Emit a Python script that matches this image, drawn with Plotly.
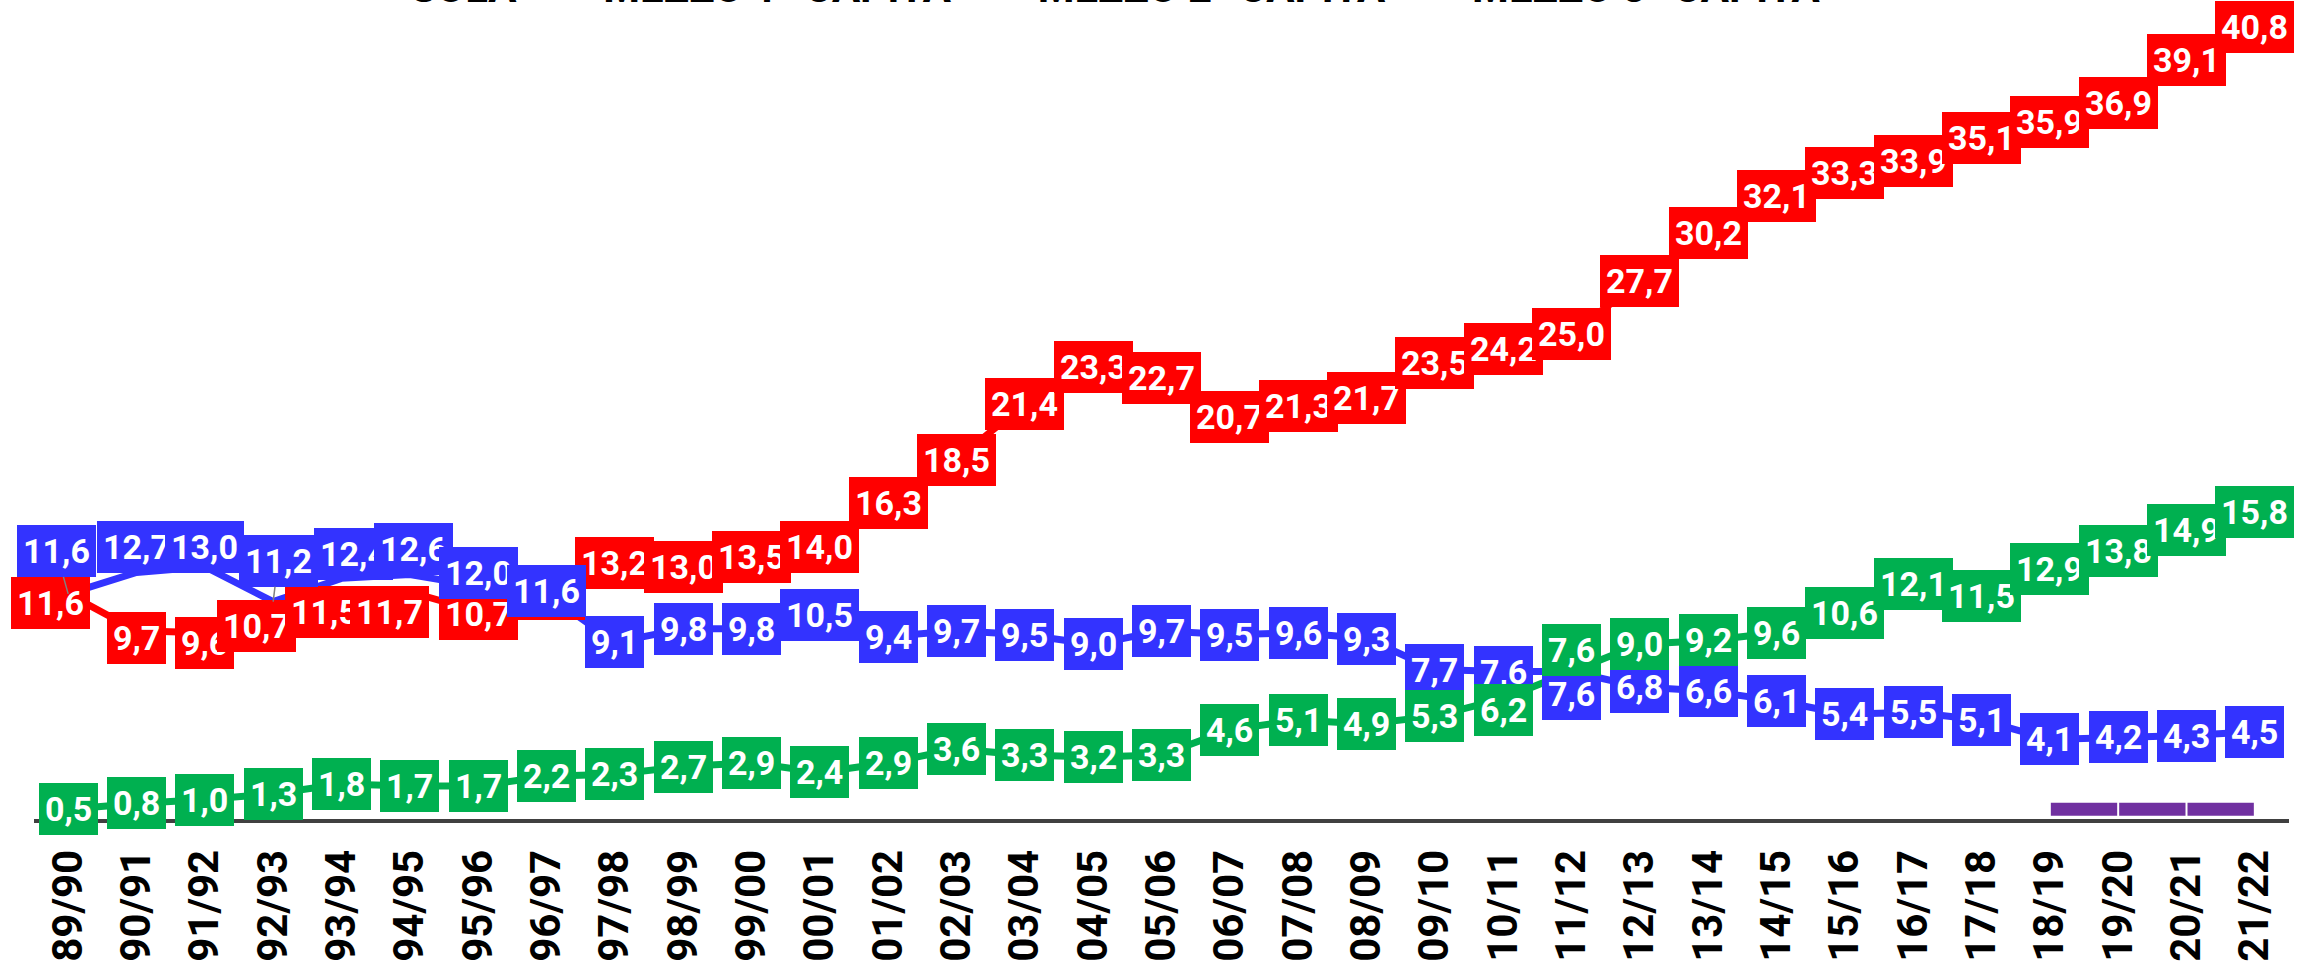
import plotly.graph_objects as go

categories = ["89/90","90/91","91/92","92/93","93/94","94/95","95/96","96/97","97/98","98/99",
              "99/00","00/01","01/02","02/03","03/04","04/05","05/06","06/07","07/08","08/09",
              "09/10","10/11","11/12","12/13","13/14","14/15","15/16","16/17","17/18","18/19",
              "19/20","20/21","21/22"]

red_values = [11.6, 9.7, 9.6, 10.7, 11.5, 11.7, 10.7, 11.6, 13.2, 13.0, 13.5, 14.0, 16.3, 18.5,
              21.4, 23.3, 22.7, 20.7, 21.3, 21.7, 23.5, 24.2, 25.0, 27.7, 30.2, 32.1, 33.3, 33.9,
              35.1, 35.9, 36.9, 39.1, 40.8]
blue_values = [11.6, 12.7, 13.0, 11.2, 12.4, 12.6, 12.0, 11.6, 9.1, 9.8, 9.8, 10.5, 9.4, 9.7,
               9.5, 9.0, 9.7, 9.5, 9.6, 9.3, 7.7, 7.6, 7.6, 6.8, 6.6, 6.1, 5.4, 5.5, 5.1, 4.1,
               4.2, 4.3, 4.5]
green_values = [0.5, 0.8, 1.0, 1.3, 1.8, 1.7, 1.7, 2.2, 2.3, 2.7, 2.9, 2.4, 2.9, 3.6, 3.3, 3.2,
                3.3, 4.6, 5.1, 4.9, 5.3, 6.2, 7.6, 9.0, 9.2, 9.6, 10.6, 12.1, 11.5, 12.9, 13.8,
                14.9, 15.8]
purple_categories = ["18/19", "19/20", "20/21", "21/22"]
purple_values = [0.5, 0.5, 0.5, 0.5]

series_names = ["SOLA", "MEZZO 1° CAPITA", "MEZZO 2° CAPITA", "MEZZO 3° CAPITA"]

RED = "#FF0000"
BLUE = "#3333FF"
GREEN = "#00B050"
PURPLE = "#7030A0"

# label nudges (pixels: dx right, dy down) mimicking the collision-moved callouts
label_nudges = {
    ("red", 0): (-18, 9), ("red", 1): (0, 7), ("red", 2): (0, 10), ("red", 3): (-17, 15),
    ("red", 4): (-17, 16), ("red", 5): (-20, 20), ("red", 6): (0, 3),
    ("blue", 0): (-12, -43), ("blue", 1): (0, -26), ("blue", 2): (0, -20), ("blue", 3): (5, -41),
    ("blue", 4): (12, -24), ("blue", 5): (4, -25), ("blue", 6): (0, -13), ("blue", 7): (0, -3),
    ("blue", 22): (0, 22),
    ("green", 21): (0, 11), ("green", 22): (0, -22),
}

PAD = "\u00a0" * 4

fig = go.Figure()

fig.add_trace(go.Scatter(x=categories, y=red_values, mode="lines", name=series_names[0] + PAD,
                         line=dict(color=RED, width=7)))
fig.add_trace(go.Scatter(x=categories, y=blue_values, mode="lines", name=series_names[1] + PAD,
                         line=dict(color=BLUE, width=7)))
fig.add_trace(go.Scatter(x=categories, y=green_values, mode="lines", name=series_names[2] + PAD,
                         line=dict(color=GREEN, width=7)))
fig.add_trace(go.Scatter(x=purple_categories, y=purple_values, mode="lines+markers",
                         name=series_names[3],
                         line=dict(color=PURPLE, width=13),
                         marker=dict(symbol="line-ns", size=14, color="white",
                                     line=dict(color="white", width=2))))

def fmt(v):
    return f"{v:.1f}".replace(".", ",")

annotations = []
for key, vals, col in (("red", red_values, RED), ("blue", blue_values, BLUE),
                       ("green", green_values, GREEN)):
    for i, (c, v) in enumerate(zip(categories, vals)):
        dx, dy = label_nudges.get((key, i), (0, 0))
        base = dict(x=c, y=v, xref="x", yref="y", text=fmt(v),
                    font=dict(family="Roboto", size=34, color="white", weight="bold"),
                    bgcolor=col, borderpad=6, borderwidth=0)
        if abs(dy) > 30:
            base.update(showarrow=True, ax=dx, ay=dy, axref="pixel", ayref="pixel",
                        arrowhead=0, arrowwidth=1.5, arrowcolor="#808080", standoff=0)
        else:
            base.update(showarrow=False, xshift=dx, yshift=-dy)
        annotations.append(base)

fig.update_layout(
    width=2310, height=970,
    margin=dict(l=34, r=21, t=0, b=151, autoexpand=False),
    paper_bgcolor="white", plot_bgcolor="white",
    showlegend=True,
    legend=dict(orientation="h", x=0.472, xanchor="center", y=1.017, yanchor="middle",
                font=dict(family="Roboto", size=42, color="#000000", weight="bold"),
                bgcolor="rgba(0,0,0,0)", traceorder="normal"),
    annotations=annotations,
    xaxis=dict(type="category", categoryorder="array", categoryarray=categories,
               range=[-0.5, 32.5], showgrid=False, zeroline=False,
               showline=True, linecolor="#404040", linewidth=4,
               ticks="", tickangle=-90, ticklabelstandoff=10,
               tickfont=dict(family="Roboto", size=42, color="#000000", weight="bold")),
    yaxis=dict(range=[0, 42.2], showgrid=False, zeroline=False, showline=False,
               showticklabels=False, ticks=""),
)

fig.write_html("out.html", config={"displayModeBar": False},
               post_script="document.body.style.margin='0';document.body.style.overflow='hidden';")
